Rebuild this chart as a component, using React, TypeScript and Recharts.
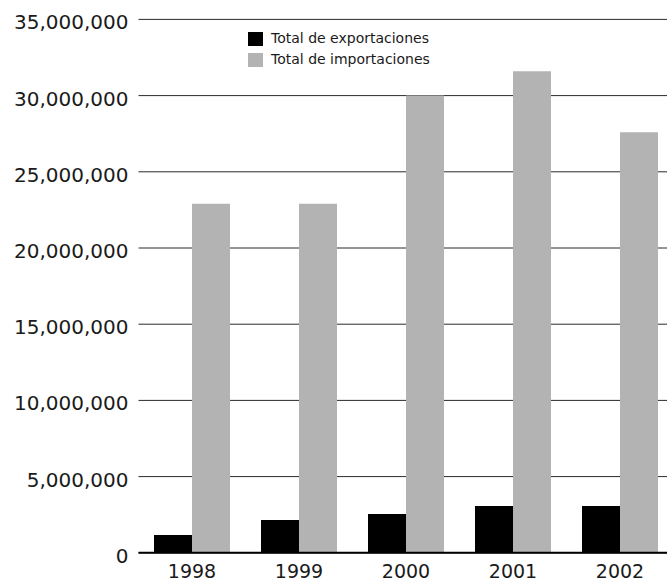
import React from 'react';
import { BarChart, Bar, XAxis, YAxis, CartesianGrid, Legend } from 'recharts';

// Yearly trade totals
const years = ['1998', '1999', '2000', '2001', '2002'];
const exportaciones = [1170000, 2150000, 2550000, 3070000, 3070000];
const importaciones = [22900000, 22900000, 30000000, 31600000, 27600000];
const yTicks = [0, 5000000, 10000000, 15000000, 20000000, 25000000, 30000000, 35000000];

const seriesNames = ['Total de exportaciones', 'Total de importaciones'];
const seriesColors = ['#000000', '#b3b3b3'];

const data = years.map((year, i) => ({
  year,
  exportaciones: exportaciones[i],
  importaciones: importaciones[i],
}));

const FONT = '"DejaVu Sans", sans-serif';
const TEXT = '#1a1a1a';

const YTick = ({ x, y, payload }: any) => (
  <text x={x} y={y} dy={10} textAnchor="end" fontSize={20} fontFamily={FONT} fill={TEXT}>
    {Number(payload.value).toLocaleString('en-US')}
  </text>
);

const XTick = ({ x, y, payload }: any) => (
  <text x={x} y={y} dy={14} textAnchor="middle" fontSize={19} fontFamily={FONT} fill={TEXT}>
    {payload.value}
  </text>
);

const LegendBox = () => (
  <div style={{ fontFamily: FONT, fontSize: 14, color: TEXT, lineHeight: '21px' }}>
    {seriesNames.map((name, i) => (
      <div key={name} style={{ display: 'flex', alignItems: 'center' }}>
        <span
          style={{
            display: 'inline-block',
            width: 15,
            height: 14,
            background: seriesColors[i],
            marginRight: 8,
          }}
        />
        <span>{name}</span>
      </div>
    ))}
  </div>
);

export default function App() {
  return (
    <div
      style={{
        position: 'absolute',
        left: 0,
        top: 0,
        width: 667,
        height: 582,
        overflow: 'hidden',
        background: '#fff',
      }}
    >
      <BarChart
        width={680}
        height={582}
        data={data}
        margin={{ top: 19.4, right: 6.5, left: 0, bottom: 0 }}
        barCategoryGap={15.5}
        barGap={0}
      >
        <CartesianGrid horizontal vertical={false} stroke="#2a2a2a" strokeWidth={1} />
        <YAxis
          width={138.5}
          domain={[0, 35000000]}
          ticks={yTicks}
          axisLine={false}
          tickLine={false}
          tickSize={6}
          tickMargin={4}
          tick={<YTick />}
          interval={0}
        />
        <XAxis
          dataKey="year"
          height={29.2}
          axisLine={{ stroke: '#000', strokeWidth: 2 }}
          tickLine={false}
          tickSize={6}
          tickMargin={5}
          tick={<XTick />}
          interval={0}
        />
        <Legend
          layout="vertical"
          align="center"
          verticalAlign="middle"
          wrapperStyle={{ left: 248, top: 28, width: 'auto', height: 'auto' }}
          content={<LegendBox />}
        />
        <Bar dataKey="exportaciones" name={seriesNames[0]} fill={seriesColors[0]} isAnimationActive={false} />
        <Bar dataKey="importaciones" name={seriesNames[1]} fill={seriesColors[1]} isAnimationActive={false} />
      </BarChart>
    </div>
  );
}
